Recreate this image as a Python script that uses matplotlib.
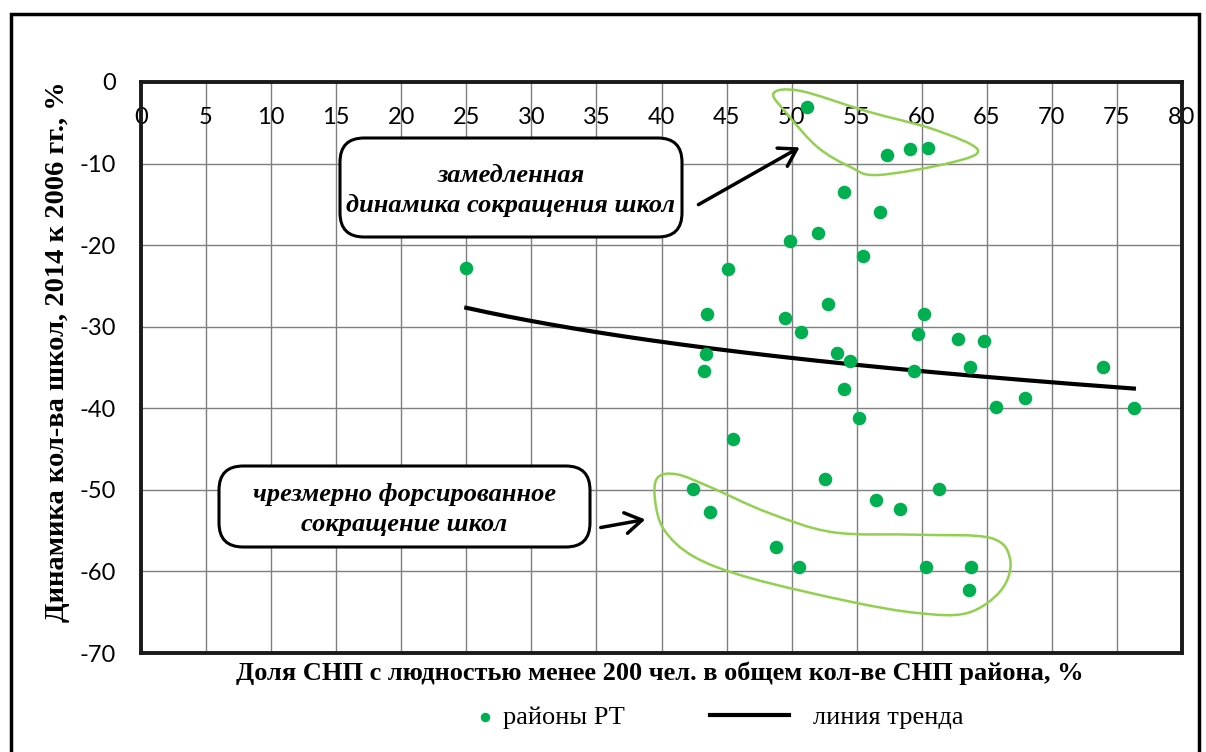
import numpy as np
import matplotlib
matplotlib.use("Agg")
import matplotlib.pyplot as plt
from matplotlib.patches import FancyBboxPatch, Rectangle, PathPatch, FancyArrowPatch
from matplotlib.path import Path

plt.rcParams["axes.unicode_minus"] = False

# ---------------- data ----------------
share_small = [25.0, 51.2, 57.3, 59.1, 60.5, 54.0, 56.8, 52.0, 49.9, 55.5,
               45.1, 43.5, 49.5, 52.8, 60.2, 50.7, 43.4, 43.3, 45.5, 42.4,
               59.7, 62.8, 64.8, 53.5, 54.5, 59.4, 63.7, 73.9, 54.0, 67.9,
               65.7, 76.3, 55.2, 52.6, 61.3, 56.5, 43.7, 58.3, 48.8, 50.6,
               60.3, 63.8, 63.6]
school_dyn = [-22.8, -3.1, -9.0, -8.2, -8.1, -13.5, -15.9, -18.5, -19.5, -21.3,
              -22.9, -28.4, -28.9, -27.2, -28.4, -30.6, -33.3, -35.4, -43.8, -49.9,
              -30.9, -31.5, -31.7, -33.2, -34.2, -35.4, -34.9, -34.9, -37.6, -38.8,
              -39.9, -40.0, -41.2, -48.7, -49.9, -51.3, -52.7, -52.4, -57.0, -59.5,
              -59.4, -59.5, -62.3]

x_ticks = list(range(0, 81, 5))
y_ticks = list(range(0, -71, -10))

# outlines of highlighted groups (data coords)
slow_group_outline = [(48.6, -1.4), (50.7, -1.1), (55.8, -3.6), (60.9, -5.8),
                      (64.3, -8.3), (62.2, -9.9), (56.6, -11.4), (54.5, -10.4),
                      (52.0, -8.0), (49.7, -4.0)]
fast_group_outline = [(39.7, -48.5), (41.2, -48.1), (43.8, -49.7), (48.2, -52.8),
                      (53.2, -55.2), (59.7, -55.5), (65.3, -55.9), (66.8, -58.6),
                      (66.1, -62.3), (63.5, -65.1), (59.7, -65.1), (54.5, -63.7),
                      (46.8, -60.8), (42.5, -58.2), (40.2, -54.9), (39.5, -51.2)]

GREEN = "#00B050"
LIGHT_GREEN = "#92D050"

W, H = 1206, 752
fig = plt.figure(figsize=(W / 100, H / 100), dpi=100)
fig.patch.set_facecolor("white")

def fx(px):
    return px / W

def fy(py):
    return 1 - py / H

# outer frame
fig.patches.append(Rectangle((fx(11), fy(800)), fx(1199) - fx(11), fy(14) - fy(800),
                             transform=fig.transFigure, fill=False, lw=2.5,
                             edgecolor="black", zorder=0))

ax = fig.add_axes([fx(141), fy(653), fx(1182) - fx(141), fy(82) - fy(653)])
ax.set_xlim(0, 80)
ax.set_ylim(-70, 0)
ax.set_xticks(x_ticks)
ax.set_yticks(y_ticks)
ax.grid(True, color="#7f7f7f", lw=1.0)
ax.set_axisbelow(True)
for s in ax.spines.values():
    s.set_linewidth(2.8)
    s.set_color("#1a1a1a")

ax.xaxis.set_ticks_position("top")
ax.tick_params(axis="x", length=0, pad=-33, labelsize=17)
ax.tick_params(axis="y", length=0, pad=18, labelsize=17)
for lab in ax.get_xticklabels() + ax.get_yticklabels():
    lab.set_fontfamily(["Lato", "DejaVu Sans"])

# trend line (logarithmic fit)
xs = np.array(share_small)
ys = np.array(school_dyn)
b, a = np.polyfit(np.log(xs), ys, 1)
xt = np.linspace(xs.min(), xs.max(), 200)
trend, = ax.plot(xt, a + b * np.log(xt), color="black", lw=3, zorder=3)

sc = ax.scatter(share_small, school_dyn, s=95, color=GREEN, zorder=4, linewidths=0)

# smooth closed outlines (Catmull-Rom -> Bezier)
def closed_smooth_path(pts):
    p = np.array(pts)
    n = len(p)
    verts = [p[0]]
    codes = [Path.MOVETO]
    for i in range(n):
        p0, p1, p2, p3 = p[i - 1], p[i], p[(i + 1) % n], p[(i + 2) % n]
        c1 = p1 + (p2 - p0) / 6
        c2 = p2 - (p3 - p1) / 6
        verts += [c1, c2, p2]
        codes += [Path.CURVE4] * 3
    return Path(verts, codes)

for outline in (slow_group_outline, fast_group_outline):
    ax.add_patch(PathPatch(closed_smooth_path(outline), fill=False,
                           edgecolor=LIGHT_GREEN, lw=1.8, zorder=5))

# axis labels
fig.text(fx(660), fy(673), "Доля СНП с людностью менее 200 чел. в общем кол-ве СНП района, %",
         family=["Liberation Serif"], weight="bold", size=19, ha="center", va="center")
fig.text(fx(58), fy(352), "Динамика кол-ва школ, 2014 к 2006 гг., %",
         family=["Liberation Serif"], weight="bold", size=20.5, ha="center", va="center",
         rotation=90)

# annotation boxes
def box(x0, y0, x1, y1, lines):
    fig.patches.append(FancyBboxPatch((fx(x0), fy(y1)), fx(x1) - fx(x0), fy(y0) - fy(y1),
                                      boxstyle="round,pad=0,rounding_size=0.02",
                                      transform=fig.transFigure, facecolor="white",
                                      edgecolor="black", lw=2.2, zorder=6,
                                      mutation_aspect=W / H))
    fig.text(fx((x0 + x1) / 2), fy((y0 + y1) / 2 + 3), lines, ha="center", va="center",
             family=["Liberation Serif"], weight="bold", style="italic", size=19,
             linespacing=1.4, zorder=7)

box(340, 138, 682, 237, "замедленная\nдинамика сокращения школ")
box(219, 466, 590, 547, "чрезмерно форсированное\nсокращение школ")

for (x0, y0, x1, y1) in [(696, 206, 802, 146), (598, 528, 648, 519)]:
    fig.add_artist(FancyArrowPatch(
        (fx(x0), fy(y0)), (fx(x1), fy(y1)), transform=fig.transFigure,
        arrowstyle="->,head_length=8,head_width=5", lw=2.5, color="black",
        mutation_scale=1.5, zorder=8))

# legend (two parts with different handle lengths)
leg1 = fig.legend(handles=[sc], labels=["районы РТ"], loc="center left",
                  bbox_to_anchor=(fx(474), fy(717)), frameon=False,
                  prop=dict(family="Liberation Serif", size=19),
                  markerscale=0.7, handlelength=0.8, handletextpad=0.3,
                  borderpad=0, borderaxespad=0)
leg2 = fig.legend(handles=[trend], labels=["линия тренда"], loc="center left",
                  bbox_to_anchor=(fx(710), fy(717)), frameon=False,
                  prop=dict(family="Liberation Serif", size=19),
                  handlelength=3.0, handletextpad=0.9,
                  borderpad=0, borderaxespad=0)

fig.savefig("out.png", dpi=100, facecolor="white")
